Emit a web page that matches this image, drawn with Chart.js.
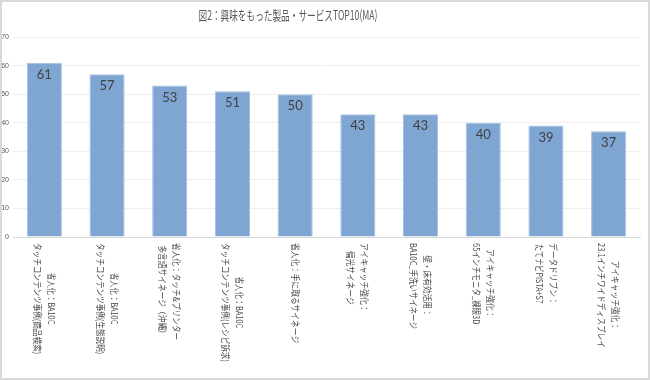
<!DOCTYPE html>
<html><head><meta charset="utf-8">
<script src="https://cdn.jsdelivr.net/npm/chart.js@4/dist/chart.umd.min.js"></script>
<style>
html,body{margin:0;padding:0;background:#fff;}
#wrap{position:absolute;left:0;top:0;width:650px;height:380px;box-sizing:border-box;border:2px solid #d9d9d9;background:#fff;}
canvas{display:block;}
</style></head><body>
<div id="wrap"><canvas id="c" width="646" height="376"></canvas></div>
<script>
const chartTitle = '図2：興味をもった製品・サービスTOP10(MA)';
const categories = [
  ['省人化：BA10C', 'タッチコンテンツ事例(商品検索)'],
  ['省人化：BA10C', 'タッチコンテンツ事例(生態説明)'],
  ['省人化：タッチ&プリンター', '多言語サイネージ（沖縄）'],
  ['省人化：BA10C', 'タッチコンテンツ事例(レシピ訴求)'],
  ['省人化：手に取るサイネージ'],
  ['アイキャッチ強化：', '偏光サイネージ'],
  ['壁・床有効活用：', 'BA10C_手洗いサイネージ'],
  ['アイキャッチ強化：', '65インチモニタ_裸眼3D'],
  ['データドリブン：', 'たてナビPISTA+S7'],
  ['アイキャッチ強化：', '23.1インチワイドディスプレイ']
];
const values = [61, 57, 53, 51, 50, 43, 43, 40, 39, 37];
const yMin = 0, yMax = 70, yStep = 10;

const drawPlugin = {
  id: 'customText',
  afterDraw(chart) {
    const ctx = chart.ctx, xs = chart.scales.x, area = chart.chartArea;
    ctx.save();
    ctx.textAlign = 'center'; ctx.textBaseline = 'middle';
    ctx.font = '13px "Noto Sans CJK JP"'; ctx.fillStyle = '#595959';
    ctx.fillText(chartTitle, 286, 13, 179);
    const meta = chart.getDatasetMeta(0);
    ctx.font = '13px Lato'; ctx.fillStyle = '#404040';
    meta.data.forEach((bar, i) => ctx.fillText(String(values[i]), bar.x, bar.y + 12));
    ctx.font = '9px "Noto Sans CJK JP"'; ctx.fillStyle = '#4a4a4a';
    categories.forEach((lines, i) => {
      const x = xs.getPixelForValue(i), top = area.bottom + 6;
      const widths = lines.map(l => Math.max(1, ctx.measureText(l).width - l.length * 1.3));
      const maxW = Math.max(...widths);
      ctx.save(); ctx.translate(x, top); ctx.rotate(Math.PI / 2);
      lines.forEach((l, k) => ctx.fillText(l, maxW / 2, (k - (lines.length - 1) / 2) * 14, widths[k]));
      ctx.restore();
    });
    ctx.restore();
  }
};

new Chart(document.getElementById('c'), {
  type: 'bar',
  data: {
    labels: categories,
    datasets: [{
      data: values,
      backgroundColor: '#7fa6d3',
      borderColor: '#a3bfe2',
      borderWidth: 1,
      categoryPercentage: 1,
      barPercentage: 0.56
    }]
  },
  options: {
    responsive: false,
    animation: false,
    layout: { padding: { left: 0, top: 35, right: 8, bottom: 141 } },
    plugins: { legend: { display: false }, title: { display: false }, tooltip: { enabled: false } },
    scales: {
      x: {
        grid: { display: false, drawTicks: false, tickLength: 0 },
        border: { display: true, color: '#d9d9d9', width: 1 },
        ticks: { display: false, padding: 0 }
      },
      y: {
        min: yMin, max: yMax,
        afterFit(s) { s.width = 11; },
        grid: { color: '#eeeeee', drawTicks: false, tickLength: 0 },
        border: { display: false },
        ticks: { stepSize: yStep, padding: 4, color: '#595959', font: { size: 7 } }
      }
    }
  },
  plugins: [drawPlugin]
});
</script>
</body></html>
